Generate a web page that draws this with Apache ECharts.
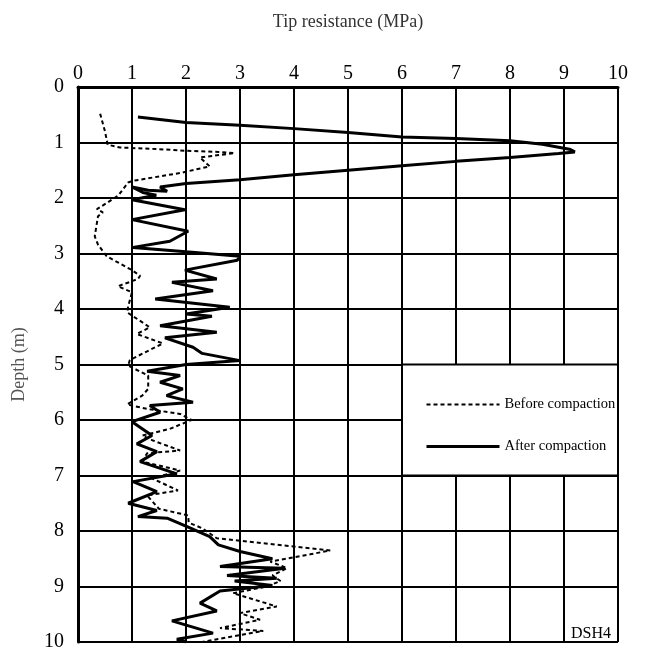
<!DOCTYPE html>
<html>
<head>
<meta charset="utf-8">
<script src="https://cdn.jsdelivr.net/npm/echarts@6/dist/echarts.min.js"></script>
<style>
  html, body { margin: 0; padding: 0; background: #fff; }
  #chart { width: 649px; height: 652px; }
</style>
</head>
<body>
<div id="chart"></div>
<script>
// tip resistance (MPa) vs depth (m)
var xTicks = [0, 1, 2, 3, 4, 5, 6, 7, 8, 9, 10];
var depthTicks = [0, 1, 2, 3, 4, 5, 6, 7, 8, 9, 10];

// [resistance, depth]
var beforeCompaction = [
  [0.41, 0.48], [0.5, 0.8], [0.55, 1.04], [0.78, 1.09], [1.5, 1.12], [2.02, 1.15],
  [2.6, 1.17], [2.9, 1.19], [2.26, 1.27], [2.44, 1.43], [1.89, 1.55], [1.02, 1.69],
  [0.93, 1.72], [0.75, 1.95], [0.55, 2.08], [0.35, 2.2], [0.46, 2.26], [0.37, 2.33],
  [0.31, 2.69], [0.37, 2.84], [0.53, 3.05], [0.72, 3.15], [1.0, 3.3], [1.15, 3.4],
  [1.11, 3.46], [0.74, 3.59], [1.0, 3.7], [0.93, 3.95], [0.91, 4.06], [1.33, 4.33],
  [1.09, 4.45], [1.57, 4.62], [0.96, 4.92], [0.93, 5.02], [1.3, 5.2], [1.3, 5.44],
  [1.19, 5.56], [0.91, 5.72], [1.28, 5.8], [1.89, 5.89], [2.1, 6.0], [1.7, 6.16],
  [1.19, 6.28], [1.39, 6.37], [1.89, 6.55], [1.28, 6.6], [1.19, 6.75], [1.89, 6.91],
  [1.37, 7.05], [1.85, 7.27], [1.28, 7.36], [1.5, 7.6], [2.04, 7.72], [2.05, 7.85],
  [2.3, 7.95], [2.57, 8.13], [4.67, 8.35], [4.3, 8.42], [3.56, 8.55], [3.87, 8.67],
  [3.6, 8.8], [3.75, 8.9], [3.5, 9.0], [2.87, 9.12], [3.68, 9.36], [3.0, 9.48],
  [3.37, 9.6], [2.63, 9.75], [3.43, 9.8], [2.3, 10.0]
];

var afterCompaction = [
  [1.11, 0.54], [2.0, 0.64], [3.0, 0.69], [4.0, 0.75], [5.0, 0.82], [6.0, 0.9],
  [7.0, 0.93], [8.0, 0.97], [8.6, 1.03], [9.1, 1.12], [9.2, 1.17], [8.9, 1.2],
  [8.0, 1.27], [7.0, 1.34], [6.0, 1.42], [5.0, 1.5], [4.0, 1.58], [3.0, 1.67],
  [2.0, 1.74], [1.52, 1.8], [1.65, 1.88], [1.3, 1.86], [1.0, 1.8], [1.2, 1.9],
  [1.45, 1.95], [1.0, 2.03], [1.98, 2.21], [1.0, 2.39], [2.04, 2.6], [1.7, 2.78],
  [1.02, 2.89], [2.0, 2.97], [3.0, 3.05], [2.95, 3.12], [1.98, 3.3], [2.57, 3.46],
  [1.74, 3.52], [2.5, 3.67], [1.43, 3.82], [2.81, 3.97], [2.0, 4.09], [2.48, 4.13],
  [1.52, 4.3], [2.57, 4.42], [1.61, 4.52], [2.13, 4.69], [2.3, 4.8], [3.0, 4.93],
  [2.0, 5.0], [1.28, 5.12], [1.89, 5.2], [1.52, 5.32], [1.94, 5.44], [1.64, 5.56],
  [2.13, 5.68], [1.33, 5.74], [1.52, 5.86], [1.0, 6.03], [1.37, 6.28], [1.09, 6.43],
  [1.46, 6.57], [1.15, 6.75], [1.83, 6.97], [1.02, 7.11], [1.46, 7.29], [0.93, 7.5],
  [1.46, 7.63], [1.11, 7.74], [1.65, 7.77], [2.02, 7.92], [2.44, 8.1], [2.6, 8.25],
  [3.0, 8.37], [3.6, 8.5], [2.63, 8.64], [3.83, 8.67], [2.76, 8.8], [3.68, 8.85],
  [2.9, 8.9], [3.6, 8.98], [2.63, 9.08], [2.26, 9.3], [2.57, 9.44], [1.74, 9.62],
  [2.5, 9.84], [1.83, 9.95], [2.0, 10.0]
];

var serif = '"Liberation Serif", "DejaVu Serif", serif';

var chart = echarts.init(document.getElementById('chart'));
var option = {
  animation: false,
  backgroundColor: '#fff',
  grid: {
    left: 78,
    right: 31,
    top: 87,
    bottom: 8
  },
  legend: {
    orient: 'vertical',
    left: 420,
    top: 392,
    itemWidth: 73,
    itemHeight: 14,
    itemGap: 27,
    itemStyle: { color: 'transparent', borderWidth: 0 },
    textStyle: {
      fontFamily: serif,
      fontSize: 14.5,
      color: '#000'
    },
    data: [
      { name: 'Before compaction', lineStyle: { width: 2, type: [4, 3] } },
      { name: 'After compaction', lineStyle: { width: 3 } }
    ]
  },
  xAxis: {
    type: 'value',
    position: 'top',
    min: 0,
    max: 10,
    interval: 1,
    name: 'Tip resistance (MPa)',
    nameLocation: 'middle',
    nameGap: 56,
    nameTextStyle: {
      fontFamily: serif,
      fontSize: 18,
      color: '#333'
    },
    axisLine: { lineStyle: { color: '#000', width: 3 } },
    axisTick: { show: false },
    axisLabel: {
      fontFamily: serif,
      fontSize: 20,
      color: '#000',
      margin: 3,
      formatter: function (v) { return xTicks.indexOf(v) >= 0 ? String(v) : ''; }
    },
    splitLine: { lineStyle: { color: '#000', width: 2 } }
  },
  yAxis: {
    type: 'value',
    inverse: true,
    min: 0,
    max: 10,
    interval: 1,
    name: 'Depth (m)',
    nameLocation: 'middle',
    nameGap: 50,
    nameTextStyle: {
      fontFamily: serif,
      fontSize: 18,
      color: '#555'
    },
    axisLine: { lineStyle: { color: '#000', width: 3 } },
    axisTick: { show: false },
    axisLabel: {
      fontFamily: serif,
      fontSize: 20,
      color: '#000',
      margin: 14,
      formatter: function (v) { return depthTicks.indexOf(v) >= 0 ? String(v) : ''; }
    },
    splitLine: { lineStyle: { color: '#000', width: 2 } }
  },
  series: [
    {
      name: 'Before compaction',
      type: 'line',
      data: beforeCompaction,
      showSymbol: false,
      symbol: 'none',
      lineStyle: { color: '#000', width: 2, type: [4, 3] },
      itemStyle: { color: '#000' },
      markArea: {
        silent: true,
        itemStyle: { color: '#fff', borderColor: '#000', borderWidth: 2 },
        data: [[{ coord: [6, 5] }, { coord: [10, 7] }]]
      },
      z: 3
    },
    {
      name: 'After compaction',
      type: 'line',
      data: afterCompaction,
      showSymbol: false,
      symbol: 'none',
      lineStyle: { color: '#000', width: 3 },
      itemStyle: { color: '#000' },
      z: 4
    }
  ],
  graphic: [
    {
      type: 'text',
      right: 38,
      bottom: 10,
      style: {
        text: 'DSH4',
        fontFamily: serif,
        fontSize: 16,
        fill: '#000'
      }
    }
  ]
};
chart.setOption(option);
</script>
</body>
</html>
